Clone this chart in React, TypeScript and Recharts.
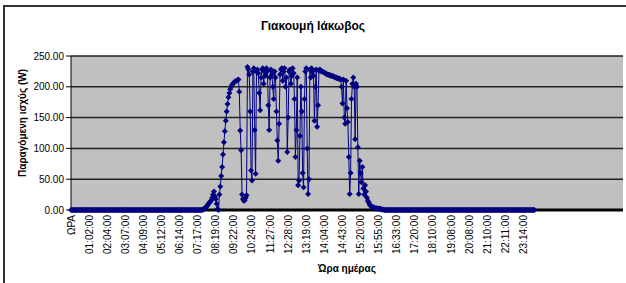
import { LineChart, Line, XAxis, YAxis, CartesianGrid } from "recharts";

// time labels shown on the category axis (every 20th row)
const timeLabels = [
  "ΩΡΑ", "01:02:00", "02:04:00", "03:07:00", "04:09:00", "05:12:00", "06:14:00",
  "07:17:00", "08:19:00", "09:22:00", "10:24:00", "11:27:00", "12:28:00", "13:19:00",
  "14:04:00", "14:43:00", "15:20:00", "15:55:00", "16:33:00", "17:20:00", "18:10:00",
  "19:08:00", "20:08:00", "21:10:00", "22:11:00", "23:14:00",
];

// produced power (W), one value per row
const power = [
  // night
  0, 0, 0, 0, 0, 0, 0, 0, 0, 0, 0, 0, 0, 0, 0, 0, 0, 0, 0, 0,
  0, 0, 0, 0, 0, 0, 0, 0, 0, 0, 0, 0, 0, 0, 0, 0, 0, 0, 0, 0,
  0, 0, 0, 0, 0, 0, 0, 0, 0, 0, 0, 0, 0, 0, 0, 0, 0, 0, 0, 0,
  0, 0, 0, 0, 0, 0, 0, 0, 0, 0, 0, 0, 0, 0, 0, 0, 0, 0, 0, 0,
  0, 0, 0, 0, 0, 0, 0, 0, 0, 0, 0, 0, 0, 0, 0, 0, 0, 0, 0, 0,
  0, 0, 0, 0, 0, 0, 0, 0, 0, 0, 0, 0, 0, 0, 0, 0, 0, 0, 0, 0,
  0, 0, 0, 0, 0, 0, 0, 0, 0, 0, 0, 0, 0, 0, 0, 0, 0, 0, 0, 0,
  0, 0, 0, 0, 0, 0,
  // morning
  1, 2, 3, 4, 6, 8, 10, 12, 14, 16,
  20, 25, 30, 22, 18, 10, 2, 0, 25, 38,
  55, 70, 90, 110, 128, 145, 160, 172, 183, 190,
  196, 200, 203, 205, 207, 208, 209, 210, 211, 212,
  192, 129, 97, 25, 18, 15, 16, 20, 24, 232,
  228, 220, 160, 64, 48, 225, 230, 130, 59, 225,
  228, 222, 190, 162, 215, 228, 230, 205, 225, 218,
  230, 225, 170, 130, 215, 228, 220, 200, 180, 225,
  215, 160, 113, 80, 140, 220, 228, 230, 210, 225,
  230, 200, 215, 94, 150, 225, 228, 205, 218, 230,
  // midday
  222, 180, 86, 130, 215, 40, 48, 120, 200, 160,
  60, 37, 180, 225, 230, 100, 26, 50, 228, 215,
  230, 225, 218, 145, 200, 228, 135, 170, 226, 228,
  226, 225, 225, 224, 223, 222, 221, 220, 220, 219,
  219, 218, 218, 217, 217, 216, 215, 215, 214, 214,
  213, 213, 212, 200, 173, 212, 150, 140, 210, 165,
  // afternoon
  143, 86, 26, 60, 180, 205, 215, 200, 115, 205,
  200, 102, 26, 80, 60, 45, 70, 35, 25, 40,
  30, 20, 15, 12, 9, 7, 6, 5, 4, 4,
  3, 3, 3, 2, 2, 2, 2, 1, 1, 1,
  // evening
  0, 0, 0, 0, 0, 0, 0, 0, 0, 0, 0, 0, 0, 0, 0, 0, 0, 0, 0, 0,
  0, 0, 0, 0, 0, 0, 0, 0, 0, 0, 0, 0, 0, 0, 0, 0, 0, 0, 0, 0,
  0, 0, 0, 0, 0, 0, 0, 0, 0, 0, 0, 0, 0, 0, 0, 0, 0, 0, 0, 0,
  0, 0, 0, 0, 0, 0, 0, 0, 0, 0, 0, 0, 0, 0, 0, 0, 0, 0, 0, 0,
  0, 0, 0, 0, 0, 0, 0, 0, 0, 0, 0, 0, 0, 0, 0, 0, 0, 0, 0, 0,
  0, 0, 0, 0, 0, 0, 0, 0, 0, 0, 0, 0, 0, 0, 0, 0, 0, 0, 0, 0,
  0, 0, 0, 0, 0, 0, 0, 0, 0, 0, 0, 0, 0, 0, 0, 0, 0, 0, 0, 0,
  0, 0, 0, 0, 0, 0, 0, 0, 0, 0, 0, 0, 0, 0, 0, 0, 0, 0, 0, 0,
  0, 0, 0, 0, 0, 0, 0,
];

const rowsPerLabel = 20;
const blankRows = 98; // empty spreadsheet rows after the last reading
const yTicks = [0, 50, 100, 150, 200, 250];

const data = Array.from({ length: power.length + blankRows }, (_, i) => ({
  t: i % rowsPerLabel === 0 && i / rowsPerLabel < timeLabels.length ? timeLabels[i / rowsPerLabel] : "",
  p: i < power.length ? power[i] : null,
}));

const NAVY = "#000080";
const FONT = 'Arial, "Liberation Sans", sans-serif';

const Diamond = (props: any) => {
  const { cx, cy, index } = props;
  if (cx == null || cy == null || props.value == null) return <g key={index} />;
  const s = 3;
  return (
    <path
      key={index}
      d={`M${cx},${cy - s}L${cx + s},${cy}L${cx},${cy + s}L${cx - s},${cy}Z`}
      fill={NAVY}
    />
  );
};

const TimeTick = (props: any) => {
  const { x, y, payload } = props;
  return (
    <text
      x={x}
      y={y}
      transform={`rotate(-90 ${x} ${y})`}
      textAnchor="end"
      dy="0.35em"
      fontSize={10}
      fill="#000"
      fontFamily={FONT}
    >
      {payload.value}
    </text>
  );
};

export default function App() {
  return (
    <div style={{ position: "relative", width: 626, height: 283, background: "#fff", fontFamily: FONT }}>
      <style>{"body{margin:0}"}</style>
      <div
        style={{
          position: "absolute",
          left: 3,
          top: 5,
          width: 623,
          height: 278,
          borderLeft: "2px solid #333",
          borderTop: "2px solid #333",
        }}
      />
      <LineChart width={626} height={283} data={data} margin={{ top: 56, right: 3, bottom: 13, left: 5 }}>
        <CartesianGrid vertical={false} stroke="#222" strokeWidth={1.5} fill="#C0C0C0" />
        <XAxis
          dataKey="t"
          interval={rowsPerLabel - 1}
          height={60}
          tick={<TimeTick />}
          tickLine={false}
          tickSize={3}
          tickMargin={2}
          axisLine={{ stroke: "#000", strokeWidth: 3 }}
        />
        <YAxis
          domain={[0, 250]}
          ticks={yTicks}
          width={66}
          tickFormatter={(v: number) => v.toFixed(2)}
          tick={{ fontSize: 10, fill: "#000", fontFamily: FONT }}
          tickSize={5}
          tickMargin={2}
          stroke="#000"
        />
        <Line
          type="linear"
          dataKey="p"
          stroke={NAVY}
          strokeWidth={1}
          dot={<Diamond />}
          activeDot={false}
          isAnimationActive={false}
        />
      </LineChart>
      <div
        style={{
          position: "absolute",
          left: 0,
          top: 19,
          width: 626,
          textAlign: "center",
          fontSize: 12,
          fontWeight: "bold",
          lineHeight: "14px",
        }}
      >
        Γιακουμή Ιάκωβος
      </div>
      <div
        style={{
          position: "absolute",
          left: 23,
          top: 123,
          transform: "translate(-50%, -50%) rotate(-90deg)",
          whiteSpace: "nowrap",
          fontSize: 10,
          fontWeight: "bold",
          lineHeight: "12px",
        }}
      >
        Παραγόμενη ισχύς (W)
      </div>
      <div
        style={{
          position: "absolute",
          left: 247,
          top: 263,
          width: 200,
          textAlign: "center",
          fontSize: 10,
          fontWeight: "bold",
          lineHeight: "12px",
        }}
      >
        Ώρα ημέρας
      </div>
    </div>
  );
}
